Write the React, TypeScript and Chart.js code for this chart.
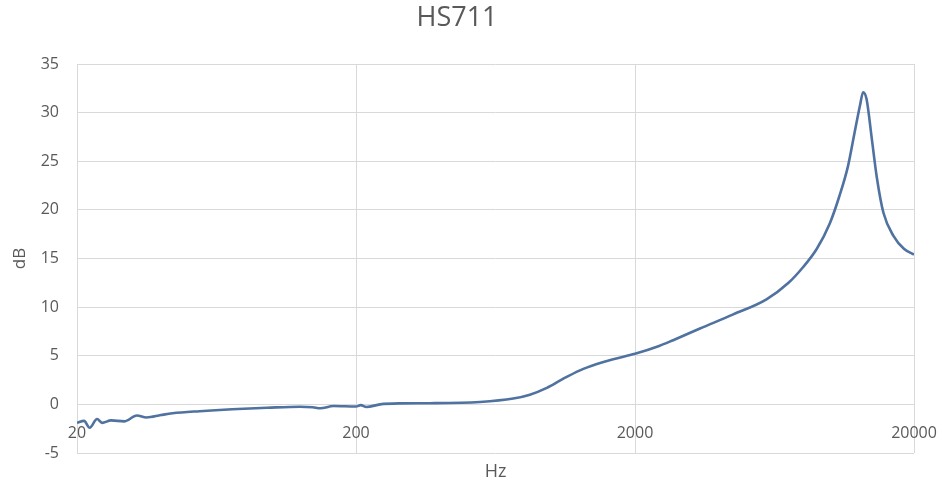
import React, { useEffect, useRef } from "react";
import { Chart, registerables } from "chart.js";

Chart.register(...registerables);

const chartTitle = "HS711";
const xTitle = "Hz";
const yTitle = "dB";

const freqHz = [
  20, 21.2, 22.2, 23.6, 24.6, 26.5, 29.5, 32.8, 35.5, 40, 44, 55, 72, 96, 126,
  140, 149, 166, 200, 208, 218, 244, 287, 368, 556, 732, 840, 966, 1100, 1270,
  1460, 1670, 2000, 2440, 2740, 3420, 4500, 5920, 7100, 8000, 8970, 9980,
  10800, 11600, 12240, 12800, 13140, 13520, 14120, 14740, 15540, 16900, 18400,
  20000,
];
const gainDb = [
  -1.9, -1.7, -2.4, -1.5, -1.9, -1.65, -1.75, -1.15, -1.35, -1.1, -0.92, -0.7,
  -0.5, -0.35, -0.24, -0.3, -0.4, -0.17, -0.22, -0.08, -0.27, 0.0, 0.1, 0.12,
  0.25, 0.6, 1.0, 1.7, 2.6, 3.5, 4.15, 4.65, 5.2, 6.0, 6.6, 7.8, 9.25, 10.8,
  12.5, 14.1, 16.0, 18.6, 21.4, 24.5, 27.9, 30.7, 32.1, 31.4, 27.3, 23.2, 19.7,
  17.3, 16.0, 15.4,
];

const xTickValues = [20, 200, 2000, 20000];
const yMin = -5;
const yMax = 35;
const yStep = 5;

const textColor = "#595959";
const gridColor = "#d9d9d9";
const lineColor = "#4f72a0";
const fontFamily = "'Open Sans', 'DejaVu Sans', sans-serif";

export default function App() {
  const ref = useRef<HTMLCanvasElement>(null);

  useEffect(() => {
    const points = freqHz.map((f, i) => ({ x: f, y: gainDb[i] }));
    const chart = new Chart(ref.current as HTMLCanvasElement, {
      type: "line",
      data: {
        datasets: [
          {
            data: points,
            borderColor: lineColor,
            borderWidth: 2.6,
            pointRadius: 0,
            tension: 0.4,
            cubicInterpolationMode: "monotone",
            fill: false,
          },
        ],
      },
      options: {
        animation: false,
        responsive: false,
        maintainAspectRatio: false,
        layout: { padding: { left: 0, right: 28, top: 0, bottom: 0 } },
        plugins: {
          legend: { display: false },
          tooltip: { enabled: false },
          title: {
            display: true,
            text: chartTitle,
            color: textColor,
            font: { family: fontFamily, size: 27, weight: "normal" },
            padding: { top: 2, bottom: 29.6 },
          },
        },
        scales: {
          x: {
            type: "logarithmic",
            min: 20,
            max: 20000,
            afterBuildTicks: (s: any) => {
              s.ticks = xTickValues.map((v) => ({ value: v }));
            },
            afterFit: (s: any) => {
              s.height = 31;
              s.paddingLeft = 0;
              s.paddingRight = 0;
            },
            grid: { color: gridColor, drawTicks: false, lineWidth: 1 },
            border: { display: false },
            ticks: {
              mirror: true,
              padding: 10,
              autoSkip: false,
              maxRotation: 0,
              color: textColor,
              font: { family: fontFamily, size: 16 },
              callback: (v: any) => String(v),
            },
            title: {
              display: true,
              text: xTitle,
              color: textColor,
              font: { family: fontFamily, size: 18 },
              padding: { top: 0, bottom: 1 },
            },
          },
          y: {
            min: yMin,
            max: yMax,
            afterFit: (s: any) => {
              s.width = 77;
            },
            grid: { color: gridColor, drawTicks: false, lineWidth: 1 },
            border: { display: false },
            ticks: {
              stepSize: yStep,
              padding: 18,
              color: textColor,
              font: { family: fontFamily, size: 16 },
            },
            title: {
              display: true,
              text: yTitle,
              color: textColor,
              font: { family: fontFamily, size: 17 },
              padding: { top: 10, bottom: 0 },
            },
          },
        },
      },
    } as any);
    return () => chart.destroy();
  }, []);

  return (
    <div
      style={{
        position: "fixed",
        left: 0,
        top: 0,
        width: 942,
        height: 484,
        background: "#ffffff",
      }}
    >
      <canvas ref={ref} width={942} height={484} style={{ width: 942, height: 484 }} />
    </div>
  );
}
